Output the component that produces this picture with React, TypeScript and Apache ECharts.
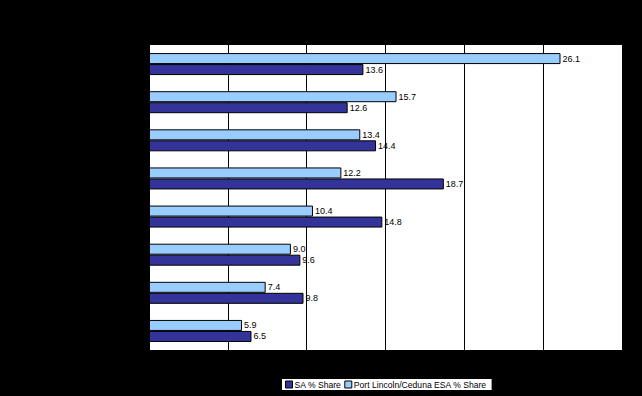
import React, { useEffect, useRef } from "react";
import * as echarts from "echarts";

const categories = ["Category 1", "Category 2", "Category 3", "Category 4", "Category 5", "Category 6", "Category 7", "Category 8"];
const saShare = [13.6, 12.6, 14.4, 18.7, 14.8, 9.6, 9.8, 6.5];
const portShare = [26.1, 15.7, 13.4, 12.2, 10.4, 9.0, 7.4, 5.9];
const seriesNames = ["SA % Share", "Port Lincoln/Ceduna ESA % Share"];

export default function App() {
  const ref = useRef<HTMLDivElement>(null);
  useEffect(() => {
    if (!ref.current) return;
    const chart = echarts.init(ref.current, null, { renderer: "svg" });
    const cats = [...categories].reverse();
    const sa = [...saShare].reverse();
    const port = [...portShare].reverse();
    const label = {
      show: true,
      position: "right",
      distance: 2,
      fontSize: 9,
      color: "#000",
      fontFamily: "Liberation Sans",
      formatter: (p: any) => Number(p.value).toFixed(1),
    };
    chart.setOption({
      animation: false,
      backgroundColor: "#000",
      textStyle: { fontFamily: "Liberation Sans" },
      grid: {
        left: 149,
        right: 20,
        top: 45,
        bottom: 46,
        show: true,
        backgroundColor: "#fff",
        borderWidth: 0,
      },
      legend: {
        data: seriesNames,
        left: 282,
        top: 379,
        backgroundColor: "#fff",
        padding: [1, 5, 1, 3],
        itemWidth: 7,
        itemHeight: 7,
        itemGap: 3,
        icon: "rect",
        itemStyle: { borderColor: "#000", borderWidth: 1 },
        textStyle: {
          fontSize: 8.6,
          color: "#000",
          fontFamily: "Liberation Sans",
          padding: [0, 0, 0, -3],
        },
      },
      xAxis: {
        type: "value",
        min: 0,
        max: 30,
        interval: 5,
        axisLine: { show: true, lineStyle: { color: "#000" } },
        axisTick: { show: false },
        axisLabel: { color: "#000", fontSize: 9 },
        splitLine: { show: true, lineStyle: { color: "#000", width: 1 } },
      },
      yAxis: {
        type: "category",
        data: cats,
        axisLine: { show: true, lineStyle: { color: "#000" } },
        axisTick: { show: false },
        axisLabel: { color: "#000", fontSize: 9 },
      },
      series: [
        {
          name: seriesNames[1],
          type: "bar",
          data: port,
          barWidth: 11,
          barGap: "0%",
          itemStyle: { color: "#99CCFF", borderColor: "#000", borderWidth: 1 },
          label,
        },
        {
          name: seriesNames[0],
          type: "bar",
          data: sa,
          barWidth: 11,
          barGap: "0%",
          itemStyle: { color: "#333399", borderColor: "#000", borderWidth: 1 },
          label,
        },
      ],
    });
    return () => chart.dispose();
  }, []);
  return (
    <div
      ref={ref}
      style={{ position: "fixed", left: 0, top: 0, width: 642, height: 396 }}
    />
  );
}
